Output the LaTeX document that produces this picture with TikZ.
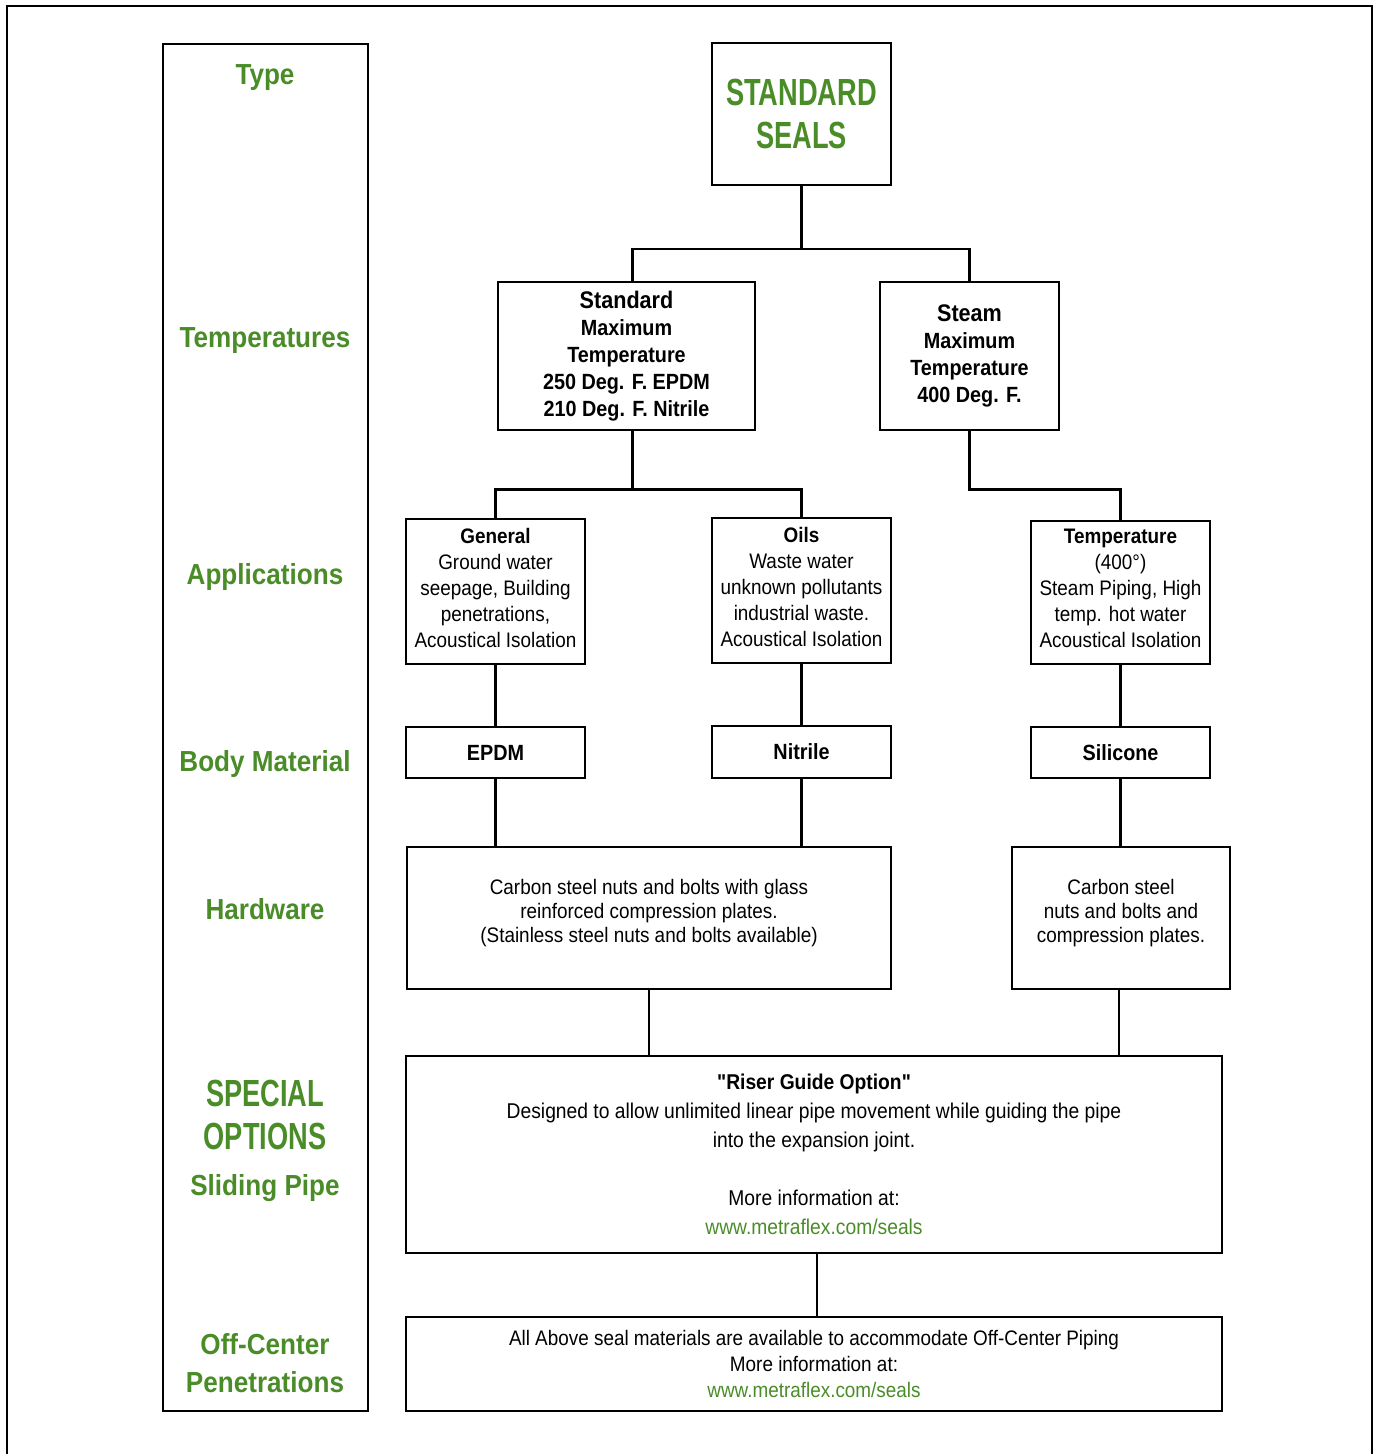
\documentclass[tikz,border=0pt]{standalone}
\usepackage{fontspec}
\setmainfont{Liberation Sans}[FakeStretch=0.9]
\newfontfamily\capsfont{Liberation Sans}[FakeStretch=0.72]
\newfontfamily\rawfont{Liberation Sans}[FakeStretch=0.9,Ligatures=TeXOff]
\usetikzlibrary{calc}
\definecolor{sealgreen}{RGB}{74,140,40}

\begin{document}
\begin{tikzpicture}
[   x=0.5pt,y=-0.5pt,
    box/.style={draw,line width=1.4pt,inner sep=0pt,align=center,font=\fontsize{10.5}{13}\selectfont},
    tier/.style={text=sealgreen,align=center,font=\fontsize{14.5}{19}\selectfont\bfseries},
    bigcaps/.style={text=sealgreen,align=center,font=\capsfont\bfseries\fontsize{18.9}{21.5}\selectfont},
    link/.style={line width=1.4pt}
]
    \useasboundingbox (0,0) rectangle (1376,1454);
    \draw[link] (7,1470) -- (7,6) -- (1372,6) -- (1372,1470);
    % left column with the tier names
    \node[draw,line width=1.4pt,minimum width=102.5pt,minimum height=683.5pt] (tiers) at (265.5,727.5) {};
    \node[tier] (tType) at (265,78) {Type};
    \node[tier] (tTemp) at (265,341) {Temperatures};
    \node[tier] (tAppl) at (265,577) {Applications};
    \node[tier] (tBody) at (265,764) {Body Material};
    \node[tier] (tHard) at (265,909) {Hardware};
    \node[bigcaps] (tSpec) at (265,1115) {SPECIAL\\OPTIONS};
    \node[tier] (tSlid) at (265,1188) {Sliding Pipe};
    \node[tier] (tOff) at (265,1363) {Off-Center\\Penetrations};
    % the tree
    \node[box,bigcaps,text=sealgreen,minimum width=89.5pt,minimum height=71pt] (seals) at (801.5,114) {STANDARD\\SEALS};
    \node[box,minimum width=128.5pt,minimum height=74pt,font=\fontsize{11}{13.5}\selectfont\bfseries] (stdtemp) at (626.5,356)
        {{\fontsize{12}{13.5}\selectfont Standard}\\Maximum\\Temperature\\250 Deg. F. EPDM\\210 Deg. F. Nitrile};
    \node[box,minimum width=89.5pt,minimum height=74pt,font=\fontsize{11}{13.5}\selectfont\bfseries] (steam) at (969.5,356)
        {{\fontsize{12}{13.5}\selectfont Steam}\\Maximum\\Temperature\\400 Deg. F.};
    \node[box,minimum width=89.5pt,minimum height=72.5pt] (general) at (495.5,591.5)
        {\textbf{General}\\Ground water\\seepage, Building\\penetrations,\\Acoustical Isolation\\[-9pt]};
    \node[box,minimum width=89.5pt,minimum height=72.5pt] (oils) at (801.5,590.5)
        {\textbf{Oils}\\Waste water\\unknown pollutants\\industrial waste.\\Acoustical Isolation\\[-9pt]};
    \node[box,minimum width=89.5pt,minimum height=71.5pt] (tempapp) at (1120.5,592.5)
        {\textbf{Temperature}\\(400°)\\Steam Piping, High\\temp. hot water\\Acoustical Isolation\\[-9pt]};
    \node[box,minimum width=89.5pt,minimum height=25.5pt,font=\fontsize{11}{13}\selectfont\bfseries] (epdm) at (495.5,752.5) {EPDM};
    \node[box,minimum width=89.5pt,minimum height=26pt,font=\fontsize{11}{13}\selectfont\bfseries] (nitrile) at (801.5,752) {Nitrile};
    \node[box,minimum width=89.5pt,minimum height=25.5pt,font=\fontsize{11}{13}\selectfont\bfseries] (silicone) at (1120.5,752.5) {Silicone};
    \node[box,minimum width=242pt,minimum height=71pt,font=\fontsize{10.5}{12}\selectfont] (hw1) at (649,918)
        {Carbon steel nuts and bolts with glass\\reinforced compression plates.\\(Stainless steel nuts and bolts available)\\[-5pt]};
    \node[box,minimum width=109pt,minimum height=71pt,font=\fontsize{10.5}{12}\selectfont] (hw2) at (1121,918)
        {Carbon steel\\nuts and bolts and\\compression plates.\\[-5pt]};
    \node[box,minimum width=408pt,minimum height=98.5pt,font=\fontsize{10.7}{14.5}\selectfont] (riser) at (814,1154.5)
        {{\rawfont\bfseries "Riser Guide Option"}\\Designed to allow unlimited linear pipe movement while guiding the pipe\\into the expansion joint.\\[14.5pt]More information at:\\\textcolor{sealgreen}{www.metraflex.com/seals}};
    \node[box,minimum width=408pt,minimum height=47pt,font=\fontsize{10.5}{13.2}\selectfont] (offc) at (814,1364)
        {All Above seal materials are available to accommodate Off-Center Piping\\More information at:\\\textcolor{sealgreen}{www.metraflex.com/seals}};
    % connectors
    \coordinate (busA) at (0,249);
    \draw[link] (seals.south) -- (seals.south |- busA) coordinate (forkA) -| ($(stdtemp.north)+(6,0)$);
    \draw[link] (forkA) -| (steam.north);
    \draw[link] ($(stdtemp.south)+(6,0)$) -- ++(0,58) coordinate (forkB) -| (general.north);
    \draw[link] (forkB) -| (oils.north);
    \draw[link] (steam.south) -- ++(0,58) -| (tempapp.north);
    \draw[link] (general.south) -- (epdm.north);
    \draw[link] (oils.south) -- (nitrile.north);
    \draw[link] (tempapp.south) -- (silicone.north);
    \draw[link] (epdm.south) -- (epdm.south |- hw1.north);
    \draw[link] (nitrile.south) -- (nitrile.south |- hw1.north);
    \draw[link] (silicone.south) -- (silicone.south |- hw2.north);
    \draw[link] (hw1.south) -- (hw1.south |- riser.north);
    \draw[link] ($(hw2.south)+(-2,0)$) -- ($(hw2.south |- riser.north)+(-2,0)$);
    \draw[link] ($(riser.south)+(3,0)$) -- ($(offc.north)+(3,0)$);
\end{tikzpicture}
\end{document}
